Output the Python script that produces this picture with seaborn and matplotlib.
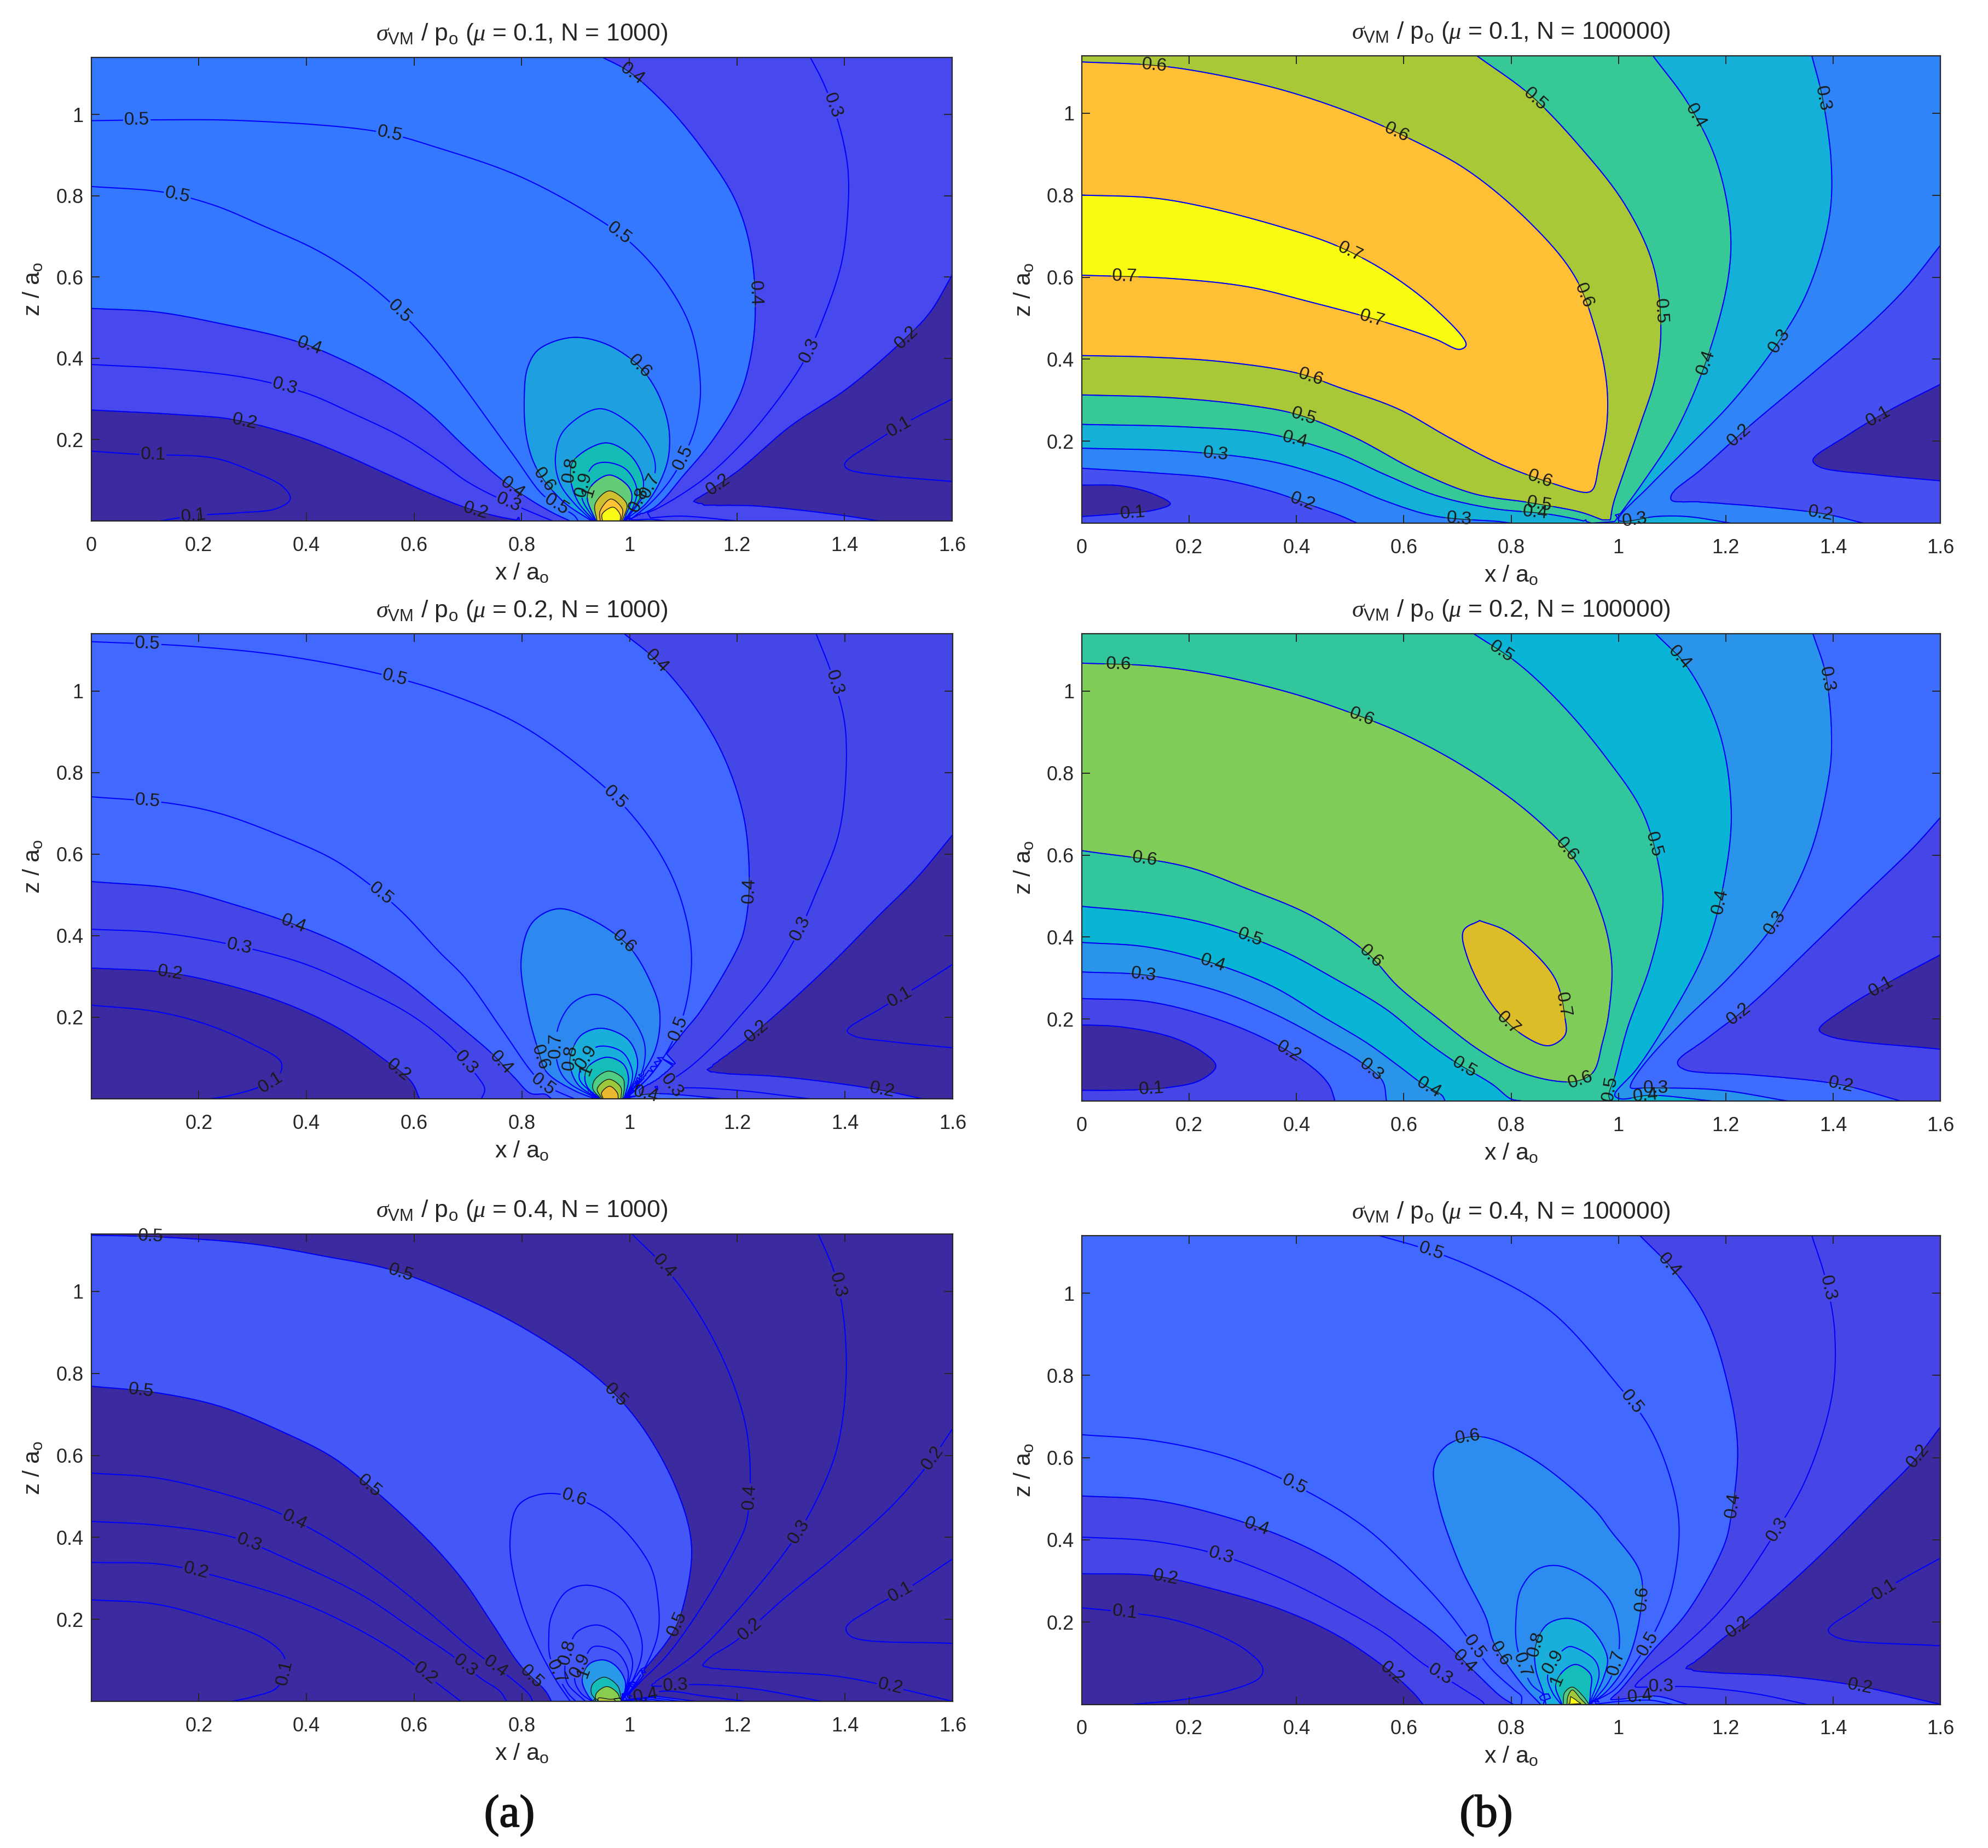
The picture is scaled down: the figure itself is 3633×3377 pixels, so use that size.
import numpy as np
import matplotlib
matplotlib.use("Agg")
import matplotlib.pyplot as plt
import matplotlib.tri as mtri
import matplotlib.patheffects as pe
import seaborn as sns

# Field samples: (value, [(x/a0, z/a0), ...]) along each iso-stress curve.
A1_TRACES = [
 (0.1,[(0,.172),(.088,.164),(.228,.155),(.30,.122),(.356,.085),(.37,.053),(.344,.03),(.274,.02),(.193,.013),(.128,0)]),
 (0.2,[(0,.273),(.158,.262),(.262,.25),(.379,.21),(.46,.169),(.554,.113),(.624,.071),(.694,.034),(.753,.012),(.80,0)]),
 (0.3,[(0,.385),(.158,.373),(.298,.35),(.403,.313),(.484,.266),(.578,.206),(.648,.146),(.695,.10),(.746,.063),(.812,.025),(.858,0)]),
 (0.4,[(0,.523),(.122,.514),(.239,.486),(.379,.443),(.461,.40),(.554,.336),(.624,.271),(.695,.182),(.759,.106),(.814,.054),(.858,.02),(.89,0)]),
 (0.5,[(0,.823),(.134,.809),(.228,.777),(.32,.726),(.414,.67),(.484,.614),(.543,.553),(.60,.48),(.648,.408),(.695,.326),(.741,.242),(.788,.156),(.838,.066),(.865,.04),(.898,.013),(.905,0)]),
 (0.5,[(0,.984),(.12,.986),(.286,.984),(.53,.958),(.648,.916),(.8,.845),(.951,.735),(1.01,.675),(1.068,.587),(1.114,.475),(1.132,.339),(1.128,.262),(1.115,.2),(1.083,.114),(1.044,.05),(1.01,.012),(.998,0)]),
 (0.6,[(.93,0),(.878,.047),(.83,.124),(.81,.2),(.805,.303),(.812,.38),(.834,.424),(.893,.451),(.951,.438),(1.009,.392),(1.044,.336),(1.068,.262),(1.075,.2),(1.068,.132),(1.034,.047),(.995,.005)]),
 (0.7,[(.932,0),(.898,.043),(.871,.093),(.863,.16),(.88,.225),(.944,.276),(1.0,.241),(1.038,.182),(1.048,.12),(1.017,.043),(.994,.004)]),
 (0.8,[(.935,0),(.905,.047),(.891,.106),(.898,.151),(.956,.192),(1.0,.164),(1.026,.101),(1.02,.057),(.993,.003)]),
 (0.9,[(.937,0),(.912,.057),(.918,.1),(.935,.138),(.959,.144),(.993,.128),(1.014,.079),(1.007,.034),(.991,.002)]),
 (1.0,[(.938,0),(.922,.057),(.932,.09),(.963,.113),(.995,.09),(1.005,.061),(.99,.002)]),
 (1.2,[(.94,0),(.937,.043),(.963,.074),(.995,.043),(.987,0)]),
 (1.4,[(.946,0),(.946,.025),(.966,.054),(.987,.03),(.985,0)]),
 (1.6,[(.95,0),(.95,.018),(.97,.034),(.983,.016),(.983,0)]),
 (0.4,[(.951,1.14),(.998,1.106),(1.068,1.023),(1.138,.911),(1.196,.791),(1.225,.67),(1.234,.512),(1.225,.40),(1.203,.303),(1.153,.195),(1.102,.114),(1.048,.034),(1.003,.004),(1.04,.004),(1.07,0)]),
 (0.3,[(1.336,1.14),(1.36,1.078),(1.389,.976),(1.406,.865),(1.406,.763),(1.394,.633),(1.359,.494),(1.324,.392),(1.266,.28),(1.203,.182),(1.136,.101),(1.051,.03),(1.006,.006),(1.095,.012),(1.2,0)]),
 (0.2,[(1.6,.605),(1.558,.512),(1.511,.447),(1.406,.327),(1.30,.234),(1.203,.125),(1.149,.077),(1.109,.043),(1.114,.039),(1.231,.037),(1.383,.016),(1.464,0)]),
 (0.1,[(1.6,.30),(1.523,.248),(1.464,.201),(1.40,.141),(1.406,.127),(1.464,.113),(1.6,.097)]),
 (0.05,[(0,.05),(.1,.08),(.2,.08),(.3,.07),(0,0),(.05,.1),(1.5,.18),(1.6,.2),(1.55,.18)]),
 (0.25,[(1.04,.018),(1.07,.03),(1.09,.032)]),
 (0.15,[(1.6,0)]),(0.47,[(0,1.14)]),(0.25,[(1.6,1.14)]),(2.0,[(.965,.008)]),
]
A1_EDGES = [.2,.4,.6,.8,1.0,1.2,1.4,1.6]
A1_BANDS = ['#3c2aa0','#4748ee','#3478ff','#1ea0e0','#13bdb6','#62cc78','#d0c02f','#ffc335','#f8f914']
A1_LABELS = {.1:[(.115,.16),(.19,.012),(1.5,.235)],.2:[(.285,.245),(.715,.025),(1.523,.44),(1.175,.07)],
 .3:[(.36,.33),(.776,.045),(1.375,1.02),(1.335,.42)],.4:[(.405,.43),(.785,.085),(1.0,1.09),(1.232,.56)],
 .5:[(.085,.985),(.555,.955),(.98,.705),(.16,.80),(.57,.51),(.865,.04),(1.1,.155)],
 .6:[(1.015,.375),(.84,.1)],.7:[(1.04,.085)],.8:[(.895,.125),(1.02,.05)],.9:[(.915,.09)],1.0:[(.928,.07)]}

A2_TRACES = [
 (0.1,[(0,.23),(.122,.214),(.216,.182),(.297,.136),(.353,.09),(.345,.05),(.309,.027),(.251,.006),(.221,0)]),
 (0.2,[(0,.321),(.134,.311),(.239,.284),(.355,.237),(.46,.173),(.542,.099),(.594,.043),(.61,0)]),
 (0.3,[(0,.416),(.122,.408),(.251,.381),(.39,.334),(.495,.274),(.589,.21),(.659,.14),(.718,.054),(.731,.024),(.725,0)]),
 (0.4,[(0,.533),(.157,.515),(.262,.478),(.379,.427),(.484,.367),(.577,.293),(.647,.219),(.695,.167),(.746,.109),(.787,.051),(.817,.013),(.844,.011),(.855,0)]),
 (0.5,[(0,.741),(.146,.725),(.239,.70),(.355,.644),(.449,.588),(.519,.524),(.577,.459),(.647,.36),(.695,.296),(.763,.17),(.817,.068),(.84,.035),(.871,.015),(.898,0)]),
 (0.5,[(0,1.121),(.181,1.11),(.355,1.087),(.542,1.04),(.67,.99),(.798,.916),(.938,.782),(1.008,.69),(1.066,.579),(1.10,.468),(1.115,.346),(1.102,.216),(1.076,.131),(1.04,.06),(1.005,.015),(.99,0)]),
 (0.6,[(.936,0),(.898,.02),(.847,.064),(.83,.122),(.81,.22),(.799,.346),(.822,.436),(.868,.466),(.927,.441),(.997,.376),(1.043,.274),(1.056,.212),(1.048,.122),(1.01,.034),(.993,.002)]),
 (0.7,[(.94,0),(.885,.042),(.866,.087),(.868,.178),(.898,.239),(.937,.256),(.983,.229),(1.017,.172),(1.029,.122),(1.02,.055),(.994,.002)]),
 (0.8,[(.942,0),(.905,.034),(.89,.078),(.892,.114),(.912,.158),(.948,.173),(.994,.149),(1.014,.10),(1.01,.051),(.992,.002)]),
 (0.9,[(.944,0),(.907,.048),(.915,.09),(.935,.125),(.956,.129),(.987,.114),(1.005,.068),(1.003,.038),(.991,.002)]),
 (1.0,[(.945,0),(.922,.028),(.917,.055),(.925,.082),(.958,.102),(.987,.087),(.998,.051),(.99,0)]),
 (1.2,[(.947,0),(.932,.024),(.936,.048),(.961,.068),(.987,.051),(.99,.026),(.987,0)]),
 (1.4,[(.949,0),(.94,.025),(.961,.048),(.983,.03),(.984,0)]),
 (1.6,[(.951,0),(.948,.015),(.963,.031),(.977,.015),(.979,0)]),
 (0.4,[(.99,1.14),(1.043,1.083),(1.113,.976),(1.172,.847),(1.212,.69),(1.222,.533),(1.215,.43),(1.203,.377),(1.132,.216),(1.102,.167),(1.034,.055),(1.0,.01),(1.05,.013),(1.11,.008),(1.17,0)]),
 (0.3,[(1.346,1.14),(1.375,1.041),(1.399,.921),(1.401,.782),(1.387,.644),(1.346,.505),(1.317,.418),(1.26,.29),(1.203,.2),(1.153,.127),(1.102,.068),(1.06,.035),(1.024,.02),(1.1,.027),(1.2,.021),(1.335,0)]),
 (0.2,[(1.6,.648),(1.533,.542),(1.463,.45),(1.381,.34),(1.30,.24),(1.235,.165),(1.203,.13),(1.165,.095),(1.136,.068),(1.171,.062),(1.288,.053),(1.451,.025),(1.544,0)]),
 (0.1,[(1.6,.33),(1.533,.274),(1.463,.219),(1.404,.168),(1.416,.154),(1.486,.14),(1.6,.125)]),
 (0.05,[(0,.1),(.1,.1),(.2,.1),(.25,.08),(0,0),(.1,.0),(1.55,.22),(1.6,.22),(1.5,.19)]),
 (0.25,[(1.05,.03),(1.08,.045),(1.1,.05)]),
 (0.15,[(1.6,0)]),(0.49,[(0,1.14)]),(0.25,[(1.6,1.14)]),(1.8,[(.963,.006)]),
]
A2_EDGES = [.2,.4,.6,.8,1.0,1.2,1.4,1.6]
A2_BANDS = ['#3c2aa0','#4546e6','#4169ff','#2d88f0','#1aaedc','#14bdb8','#50cc85','#9cc83c','#ebb830']
A2_LABELS = {.1:[(.33,.05),(1.5,.254)],.2:[(.146,.304),(.571,.071),(1.235,.168),(1.469,.025)],
 .3:[(.274,.369),(.688,.079),(1.375,1.018),(1.317,.418),(1.07,.025)],
 .4:[(.379,.441),(.758,.085),(1.043,1.064),(1.221,.51),(1.03,.012)],
 .5:[(.105,1.12),(.563,1.027),(.971,.736),(.105,.732),(.536,.5),(.839,.034),(1.09,.173)],
 .6:[(.99,.385),(.83,.1)],.7:[(.866,.131)],.8:[(.895,.1)],.9:[(.915,.105)],1.0:[(.92,.07)]}

A3_TRACES = [
 (0.1,[(0,.248),(.122,.237),(.239,.195),(.32,.154),(.357,.113),(.36,.07),(.343,.031),(.297,.01),(.262,0)]),
 (0.2,[(0,.339),(.134,.334),(.239,.303),(.378,.247),(.483,.185),(.576,.113),(.646,.041),(.687,0)]),
 (0.3,[(0,.439),(.122,.43),(.262,.401),(.378,.339),(.506,.257),(.599,.175),(.669,.113),(.725,.055),(.759,.025),(.772,0)]),
 (0.4,[(0,.557),(.122,.545),(.239,.509),(.343,.463),(.448,.391),(.541,.308),(.623,.222),(.695,.14),(.729,.105),(.781,.055),(.814,.016),(.82,0)]),
 (0.5,[(0,.769),(.122,.753),(.239,.72),(.355,.658),(.448,.596),(.518,.524),(.588,.442),(.646,.365),(.695,.288),(.745,.19),(.797,.088),(.844,.025),(.855,0)]),
 (0.5,[(0,1.137),(.122,1.133),(.297,1.116),(.436,1.085),(.553,1.054),(.669,.997),(.797,.915),(.937,.792),(1.018,.679),(1.088,.514),(1.115,.377),(1.099,.23),(1.078,.163),(1.03,.082),(.995,.03),(.985,0)]),
 (0.6,[(.89,0),(.865,.048),(.83,.132),(.797,.243),(.778,.39),(.797,.483),(.855,.507),(.947,.466),(1.034,.342),(1.053,.243),(1.051,.155),(1.017,.056),(.988,.005)]),
 (0.7,[(.90,0),(.885,.021),(.853,.105),(.85,.155),(.855,.208),(.885,.27),(.924,.283),(.983,.252),(1.02,.163),(1.022,.11),(1.0,.035),(.987,.002)]),
 (0.8,[(.918,0),(.885,.043),(.88,.088),(.89,.14),(.905,.172),(.941,.186),(.98,.159),(1.005,.101),(.997,.04),(.986,0)]),
 (0.9,[(.93,0),(.909,.021),(.898,.056),(.915,.1),(.931,.132),(.946,.134),(.977,.119),(.997,.075),(.993,.03),(.986,0)]),
 (1.0,[(.932,0),(.922,.016),(.912,.052),(.926,.092),(.951,.101),(.973,.088),(.992,.048),(.987,0)]),
 (1.5,[(.94,0),(.929,.02),(.932,.043),(.953,.059),(.977,.039),(.985,.005)]),
 (2.0,[(.936,0),(.939,.021),(.958,.036),(.977,.021),(.983,0)]),
 (2.5,[(.942,0),(.942,.008),(.965,.005),(.982,.007),(.985,0)]),
 (0.4,[(1.004,1.14),(1.065,1.059),(1.123,.956),(1.181,.812),(1.216,.668),(1.224,.535),(1.216,.432),(1.203,.39),(1.136,.235),(1.068,.11),(1.017,.043),(1.0,.015),(1.02,.012),(1.064,.025),(1.143,.012),(1.216,0)]),
 (0.3,[(1.35,1.14),(1.379,1.049),(1.396,.946),(1.402,.792),(1.385,.617),(1.344,.483),(1.297,.38),(1.203,.226),(1.125,.119),(1.068,.065),(1.03,.035),(1.054,.036),(1.124,.041),(1.228,.031),(1.356,0)]),
 (0.2,[(1.6,.666),(1.553,.576),(1.484,.473),(1.379,.35),(1.286,.25),(1.197,.148),(1.146,.105),(1.134,.085),(1.228,.074),(1.38,.062),(1.484,.036),(1.6,0)]),
 (0.1,[(1.6,.348),(1.519,.278),(1.449,.226),(1.402,.18),(1.414,.156),(1.6,.141)]),
 (0.5,[(1.0,.005),(1.05,.012),(1.123,0)]),
 (0.05,[(0,.1),(.1,.12),(.2,.1),(.28,.08),(0,0),(.1,0),(1.55,.22),(1.6,.24),(1.5,.2)]),
 (0.15,[(1.6,.05)]),(0.19,[(1.6,0)]),(0.495,[(0,1.14)]),(0.25,[(1.6,1.14)]),(3.0,[(.965,.001)]),
]
A3_EDGES = [.5,1.0,1.5,2.0,2.5]
A3_BANDS = ['#3c2aa0','#4458f8','#2a98e8','#14bdb8','#88cc50','#b0c838']
A3_LABELS = {.1:[(.36,.07),(1.501,.272)],.2:[(.194,.314),(.613,.057),(1.565,.591),(1.224,.175),(1.484,.036)],
 .3:[(.291,.38),(.692,.082),(1.379,1.013),(1.311,.416),(1.085,.04)],.4:[(.382,.454),(.75,.082),(1.062,1.059),(1.22,.499),(1.03,.015)],
 .5:[(.093,.759),(.11,1.131),(.574,1.042),(.977,.751),(.52,.53),(.815,.057),(1.086,.19)],
 .6:[(.896,.494)],.7:[(.86,.07)],.8:[(.885,.12)],.9:[(.905,.09)],1.0:[(.915,.07)]}

B1_TRACES = [
 (0.6,[(0,1.125),(.132,1.117),(.226,1.10),(.367,1.059),(.495,1.004),(.601,.944),(.718,.861),(.835,.733),(.917,.605),(.958,.467),(.978,.339),(.978,.238),(.964,.146),(.952,.082),(.941,.075),(.882,.095),(.777,.146),(.683,.21),(.589,.279),(.484,.329),(.402,.366),(.261,.394),(.132,.405),(0,.409)]),
 (0.7,[(0,.80),(.132,.793),(.226,.772),(.367,.724),(.472,.678),(.566,.614),(.659,.522),(.716,.435),(.704,.424),(.659,.449),(.566,.49),(.425,.54),(.308,.577),(.167,.597),(0,.605)]),
 (0.5,[(.736,1.14),(.835,1.045),(.929,.917),(1.011,.779),(1.064,.632),(1.079,.476),(1.069,.357),(1.04,.238),(1.011,.128),(.99,.045),(.985,.008)]),
 (0.5,[(0,.313),(.167,.306),(.308,.288),(.402,.265),(.507,.21),(.624,.128),(.73,.072),(.835,.05),(.929,.027),(.97,.008)]),
 (0.4,[(1.064,1.14),(1.128,1.027),(1.181,.889),(1.208,.724),(1.204,.595),(1.163,.394),(1.105,.219),(1.046,.10),(.993,.004)]),
 (0.4,[(0,.241),(.191,.235),(.343,.219),(.472,.173),(.566,.118),(.659,.068),(.765,.036),(.87,.022),(.94,.004),(.95,0)]),
 (0.3,[(1.36,1.14),(1.38,1.036),(1.397,.861),(1.391,.733),(1.35,.559),(1.292,.43),(1.21,.293),(1.128,.183),(1.058,.091),(.999,.008),(1.011,.004),(1.069,.016),(1.128,.016),(1.21,0)]),
 (0.3,[(0,.183),(.191,.175),(.355,.15),(.472,.105),(.566,.054),(.659,.017),(.777,.004),(.80,0)]),
 (0.2,[(1.6,.678),(1.538,.577),(1.468,.485),(1.362,.366),(1.245,.238),(1.151,.128),(1.099,.072),(1.099,.054),(1.151,.051),(1.268,.04),(1.386,.022),(1.456,0)]),
 (0.2,[(0,.134),(.132,.123),(.25,.109),(.355,.077),(.425,.045),(.484,.017),(.513,0)]),
 (0.1,[(0,.093),(.074,.091),(.132,.072),(.165,.047),(.132,.031),(.062,.022),(0,.016)]),
 (0.1,[(1.6,.339),(1.503,.274),(1.421,.21),(1.362,.155),(1.374,.137),(1.479,.118),(1.6,.103)]),
 (0.05,[(0,.055),(.06,.055),(.11,.05),(1.5,.2),(1.6,.22),(1.55,.2)]),
 (0.15,[(0,0),(1.6,0)]),(0.58,[(0,1.14)]),(0.25,[(1.6,1.14)]),
]
B1_EDGES = [.1,.2,.3,.4,.5,.6,.7]
B1_BANDS = ['#3c2aa0','#4650f0','#2f85f8','#14b0d8','#36c896','#a8c838','#ffc035','#f8fa10']
B1_LABELS = {.1:[(.095,.025),(1.489,.251)],.2:[(.411,.052),(1.237,.2),(1.376,.019)],
 .3:[(.249,.166),(.703,.016),(1.38,1.036),(1.301,.444),(1.03,.012)],.4:[(.396,.199),(.845,.025),(1.137,.988),(1.169,.389)],
 .5:[(.413,.261),(.854,.054),(.845,1.034),(1.075,.517)],.6:[(.135,1.115),(.587,.955),(.929,.552),(.425,.35),(.853,.105)],
 .7:[(.08,.6),(.498,.658),(.542,.504)]}

B2_TRACES = [
 (0.6,[(0,1.068),(.132,1.061),(.25,1.039),(.39,.995),(.507,.944),(.601,.894),(.718,.811),(.835,.701),(.917,.591),(.964,.472),(.987,.344),(.982,.215),(.97,.142),(.952,.069),(.923,.049),(.882,.049),(.812,.073),(.741,.124),(.659,.206),(.589,.28),(.531,.362),(.425,.454),(.308,.518),(.191,.573),(0,.611)]),
 (0.7,[(.741,.44),(.712,.417),(.718,.353),(.765,.234),(.823,.16),(.87,.135),(.9,.16),(.9,.206),(.882,.298),(.835,.371),(.788,.417),(.741,.44)]),
 (0.5,[(.73,1.14),(.812,1.068),(.894,.967),(.976,.839),(1.046,.701),(1.081,.527),(1.081,.454),(1.058,.325),(1.017,.179),(.993,.06),(.982,.014),(.985,0)]),
 (0.5,[(0,.475),(.132,.458),(.238,.431),(.367,.371),(.472,.298),(.566,.225),(.636,.151),(.695,.096),(.765,.041),(.8,.005),(.82,0)]),
 (0.4,[(1.069,1.14),(1.128,1.059),(1.187,.903),(1.21,.71),(1.198,.545),(1.163,.371),(1.093,.197),(1.034,.078),(.993,.014),(1.005,.005),(1.058,.014),(1.175,0)]),
 (0.4,[(0,.387),(.121,.376),(.238,.339),(.355,.28),(.449,.206),(.531,.142),(.589,.087),(.636,.041),(.671,.014),(.677,0)]),
 (0.3,[(1.362,1.14),(1.386,1.04),(1.397,.875),(1.391,.784),(1.356,.6),(1.292,.435),(1.21,.307),(1.116,.188),(1.046,.087),(1.023,.041),(1.023,.032),(1.058,.032),(1.187,.027),(1.315,0)]),
 (0.3,[(0,.315),(.121,.307),(.25,.27),(.355,.215),(.46,.142),(.519,.096),(.56,.05),(.568,0)]),
 (0.2,[(1.6,.692),(1.55,.619),(1.456,.5),(1.362,.38),(1.245,.234),(1.163,.151),(1.11,.096),(1.122,.076),(1.245,.064),(1.409,.041),(1.526,0)]),
 (0.2,[(0,.25),(.121,.243),(.238,.206),(.343,.151),(.425,.087),(.46,.041),(.472,0)]),
 (0.1,[(0,.186),(.074,.181),(.167,.156),(.226,.119),(.25,.085),(.22,.05),(.156,.032),(.062,.026),(0,.026)]),
 (0.1,[(1.6,.357),(1.503,.289),(1.421,.225),(1.374,.174),(1.397,.156),(1.6,.126)]),
 (0.05,[(0,.1),(.08,.1),(.16,.09),(1.5,.22),(1.6,.24),(1.55,.22)]),
 (0.15,[(0,0),(1.6,0)]),(0.55,[(0,1.14),(.9,.01)]),(0.25,[(1.6,1.14)]),
]
B2_EDGES = [.1,.2,.3,.4,.5,.6,.7]
B2_BANDS = ['#3c2aa0','#4646e8','#3e6cff','#2a94ea','#0ab4d4','#32c69c','#80cc58','#dcbc28']
B2_LABELS = {.1:[(.13,.03),(1.491,.275)],.2:[(.384,.119),(1.228,.206),(1.415,.04)],
 .3:[(.115,.305),(.539,.075),(1.383,1.027),(1.292,.435),(1.07,.03)],.4:[(.246,.344),(.65,.041),(1.105,1.072),(1.192,.486),(1.05,.012)],
 .5:[(.314,.401),(.71,.076),(.78,1.093),(1.066,.626),(.985,.03)],.6:[(.117,.59),(.068,1.065),(.527,.958),(.908,.619),(.54,.355),(.929,.05)],
 .7:[(.794,.19),(.896,.234)]}

B3_TRACES = [
 (0.1,[(0,.235),(.062,.227),(.167,.207),(.25,.171),(.308,.13),(.337,.089),(.331,.064),(.273,.033),(.191,.012),(.097,0)]),
 (0.2,[(0,.318),(.132,.313),(.25,.279),(.367,.233),(.472,.171),(.566,.089),(.618,.028),(.636,0)]),
 (0.3,[(0,.407),(.132,.397),(.25,.366),(.367,.309),(.484,.233),(.566,.171),(.636,.099),(.705,.042),(.747,.006),(.75,0)]),
 (0.4,[(0,.507),(.132,.497),(.25,.463),(.367,.412),(.472,.345),(.566,.258),(.659,.171),(.737,.073),(.781,.019),(.804,0)]),
 (0.5,[(0,.656),(.132,.642),(.273,.601),(.402,.53),(.531,.427),(.636,.294),(.686,.22),(.719,.162),(.761,.089),(.806,.035),(.819,.02),(.819,0)]),
 (0.5,[(.554,1.14),(.636,1.109),(.73,1.062),(.87,.96),(.999,.776),(1.058,.673),(1.099,.54),(1.113,.429),(1.10,.284),(1.074,.193),(1.038,.113),(.992,.035),(.95,.002),(1.0,.007),(1.06,.01),(1.1,0)]),
 (0.6,[(.855,0),(.822,.046),(.768,.149),(.753,.212),(.706,.335),(.665,.489),(.657,.581),(.683,.632),(.741,.651),(.835,.601),(.952,.478),(.985,.423),(1.04,.322),(1.041,.224),(1.016,.103),(.982,.037),(.948,0)]),
 (0.7,[(.86,0),(.863,.019),(.837,.05),(.812,.135),(.809,.206),(.819,.282),(.85,.329),(.888,.337),(.944,.304),(.985,.25),(1.002,.149),(.984,.06),(.95,.003)]),
 (0.8,[(.865,0),(.86,.028),(.846,.086),(.846,.144),(.869,.196),(.907,.209),(.944,.189),(.979,.117),(.972,.064),(.949,.003)]),
 (0.9,[(.893,0),(.877,.029),(.868,.069),(.885,.115),(.907,.14),(.921,.137),(.955,.109),(.964,.073),(.947,.005)]),
 (1.0,[(.894,.002),(.883,.046),(.898,.082),(.921,.097),(.948,.073),(.948,.032),(.946,0)]),
 (1.2,[(.897,0),(.90,.029),(.914,.042),(.934,.02),(.945,0)]),
 (1.4,[(.904,0),(.906,.02),(.914,.035),(.93,.013),(.94,0)]),
 (1.6,[(.907,0),(.911,.019),(.93,.002)]),
 (0.4,[(1.04,1.14),(1.105,1.052),(1.163,.94),(1.204,.776),(1.222,.622),(1.21,.458),(1.196,.384),(1.128,.224),(1.061,.126),(1.002,.033),(.985,.012),(1.0,.012),(1.07,.02),(1.128,0)]),
 (0.3,[(1.36,1.14),(1.386,1.032),(1.403,.899),(1.397,.745),(1.35,.55),(1.292,.417),(1.196,.237),(1.111,.13),(1.06,.08),(1.03,.043),(1.057,.042),(1.128,.043),(1.245,.028),(1.351,0)]),
 (0.2,[(1.6,.675),(1.55,.591),(1.48,.499),(1.362,.345),(1.245,.21),(1.196,.162),(1.151,.113),(1.122,.087),(1.151,.079),(1.303,.069),(1.432,.048),(1.6,0)]),
 (0.1,[(1.6,.356),(1.515,.294),(1.444,.233),(1.391,.181),(1.409,.161),(1.6,.142)]),
 (0.05,[(0,.1),(.1,.11),(.2,.1),(.27,.08),(0,0),(1.5,.22),(1.6,.25),(1.55,.22)]),
 (0.52,[(0,1.14)]),(0.25,[(1.6,1.14)]),(1.8,[(.915,.004)]),
]
B3_EDGES = [.2,.4,.6,.8,1.0,1.2,1.4,1.6]
B3_BANDS = ['#3c2aa0','#4646e6','#4169ff','#2d8cf0','#1aaedc','#14bdb8','#50cc80','#a0c83c','#f8f914']
B3_LABELS = {.1:[(.08,.225),(1.495,.279)],.2:[(.156,.305),(.577,.075),(1.561,.601),(1.222,.19),(1.45,.045)],
 .3:[(.259,.361),(.665,.066),(1.386,1.011),(1.301,.422),(1.08,.043)],.4:[(.326,.434),(.71,.1),(1.087,1.06),(1.212,.484),(1.04,.015)],
 .5:[(.39,.52),(.733,.14),(.648,1.093),(1.023,.733),(1.052,.15)],.6:[(.72,.645),(.778,.122),(1.04,.258)],
 .7:[(.818,.094),(.99,.104)],.8:[(.847,.146)],.9:[(.882,.10)],1.0:[(.885,.06)]}

MU = ['0.1','0.2','0.4','0.1','0.2','0.4']
CYCLES = ['1000','1000','1000','100000','100000','100000']
LINE_LEVELS = [.1,.2,.3,.4,.5,.6,.7,.8,.9,1.0]
X_TICKS_FULL = [0,.2,.4,.6,.8,1,1.2,1.4,1.6]
X_TICKS_NOZERO = [.2,.4,.6,.8,1,1.2,1.4,1.6]
Z_TICKS = [.2,.4,.6,.8,1]
# pixel boxes left, top, right, bottom
BOXES = [(166.5,105,1740,952),(166.5,1158.5,1741,2008),(166.5,2255,1741,3109),
         (1977,102,3546,956),(1977,1158,3546,2012),(1977,2258,3546,3114.5)]

W, H = 3633, 3377
sns.set_theme(style="ticks")
plt.rcParams.update({'font.family':['Liberation Sans','DejaVu Sans'],'mathtext.fontset':'custom',
  'mathtext.rm':'Liberation Sans','mathtext.it':'Liberation Serif:italic','mathtext.default':'rm',
  'axes.axisbelow':False})
EPS = 1e-4
INK = '#262626'

def smooth(pts, n=10):
    p = np.array(pts, float)
    if len(p) < 3:
        return p
    e = np.vstack([2*p[0]-p[1], p, 2*p[-1]-p[-2]])
    out = [p[0]]
    for i in range(1, len(e)-2):
        P0, P1, P2, P3 = e[i-1], e[i], e[i+1], e[i+2]
        t0 = 0.0
        t1 = t0 + np.linalg.norm(P1-P0)**.5 + 1e-9
        t2 = t1 + np.linalg.norm(P2-P1)**.5 + 1e-9
        t3 = t2 + np.linalg.norm(P3-P2)**.5 + 1e-9
        for t in np.linspace(t1, t2, n+1)[1:]:
            A1 = (t1-t)/(t1-t0)*P0 + (t-t0)/(t1-t0)*P1
            A2 = (t2-t)/(t2-t1)*P1 + (t-t1)/(t2-t1)*P2
            A3 = (t3-t)/(t3-t2)*P2 + (t-t2)/(t3-t2)*P3
            B1 = (t2-t)/(t2-t0)*A1 + (t-t0)/(t2-t0)*A2
            B2 = (t3-t)/(t3-t1)*A2 + (t-t1)/(t3-t1)*A3
            out.append((t2-t)/(t2-t1)*B1 + (t-t1)/(t2-t1)*B2)
    return np.array(out)

def relieve_plateaus(x, z, v):
    # A flat mesh triangle on the low side of a curve would wrongly count as above it:
    # give it a centre vertex that leans towards the neighbour across its longest edge.
    for _ in range(6):
        tri = mtri.Triangulation(x, z)
        t, nb = tri.triangles, tri.neighbors
        flat = (v[t[:,0]] == v[t[:,1]]) & (v[t[:,1]] == v[t[:,2]])
        nx, nz, nv = [], [], []
        for i in np.where(flat)[0]:
            a = t[i]
            lens = [np.hypot(x[a[j]]-x[a[(j+1)%3]], z[a[j]]-z[a[(j+1)%3]]) for j in range(3)]
            j = int(np.argmax(lens))
            n = nb[i, j]
            if n < 0:
                continue
            opp = [k for k in t[n] if k not in a]
            if not opp or v[opp[0]] >= v[a[0]]:
                continue
            nx.append(x[a].mean()); nz.append(z[a].mean())
            nv.append(v[a[0]] + 0.3*(v[opp[0]]-v[a[0]]))
        if not nx:
            break
        x = np.r_[x, nx]; z = np.r_[z, nz]; v = np.r_[v, nv]
    return x, z, v

def field(traces):
    xs, zs, vs = [], [], []
    for value, pts in traces:
        scatter = value in (0.05,) or len(pts) < 4
        q = np.array(pts, float) if scatter else smooth(pts)
        xs.append(np.clip(q[:,0], 0, 1.6)); zs.append(np.clip(q[:,1], 0, 1.14))
        vs.append(np.full(len(q), value))
    x, z, v = map(np.concatenate, (xs, zs, vs))
    _, keep = np.unique(np.round(np.c_[x, z], 5), axis=0, return_index=True)
    keep = np.sort(keep)
    x, z, v = relieve_plateaus(x[keep], z[keep], v[keep])
    return mtri.Triangulation(x, z), v

fig = plt.figure(figsize=(W/100, H/100), dpi=100, facecolor='white')
panels = [(A1_TRACES,A1_EDGES,A1_BANDS,A1_LABELS),(A2_TRACES,A2_EDGES,A2_BANDS,A2_LABELS),
          (A3_TRACES,A3_EDGES,A3_BANDS,A3_LABELS),(B1_TRACES,B1_EDGES,B1_BANDS,B1_LABELS),
          (B2_TRACES,B2_EDGES,B2_BANDS,B2_LABELS),(B3_TRACES,B3_EDGES,B3_BANDS,B3_LABELS)]
for i, (traces, edges, bands, labels) in enumerate(panels):
    l, t, r, b = BOXES[i]
    ax = fig.add_axes([l/W, 1-b/H, (r-l)/W, (b-t)/H])
    tri, val = field(traces)
    ed = [e-EPS for e in edges]
    ax.tricontourf(tri, val, levels=[-1]+ed+[100], colors=list(sns.color_palette(bands)), zorder=1)
    ax.tricontour(tri, val, levels=ed, colors='k', linewidths=1.0, zorder=2)
    for lev in LINE_LEVELS:
        cs = ax.tricontour(tri, val, levels=[lev-EPS], colors='#0000ff', linewidths=1.5, zorder=3)
        places = labels.get(lev, [])
        if places and len(cs.allsegs[0]):
            ax.set_xlim(0, 1.6); ax.set_ylim(0, 1.14)
            txt = ax.clabel(cs, manual=places, inline=True, inline_spacing=2, fontsize=24,
                            colors='k', fmt=lambda v: f'{round(v,1):g}')
            for tx in txt:
                tx.set_zorder(5); tx.set_clip_on(False)
    ax.set_xlim(0, 1.6); ax.set_ylim(0, 1.14)
    xt = X_TICKS_NOZERO if i in (1, 2) else X_TICKS_FULL
    ax.set_xticks(xt); ax.set_xticklabels([f'{v:g}' for v in xt])
    ax.set_yticks(Z_TICKS); ax.set_yticklabels([f'{v:g}' for v in Z_TICKS])
    ax.tick_params(direction='in', length=11, width=1.4, color=INK, labelcolor=INK, labelsize=26,
                   top=True, right=True, pad=10)
    ax.tick_params(axis='x', pad=20)
    for s in ax.spines.values():
        s.set_visible(True); s.set_color(INK); s.set_linewidth(1.6); s.set_zorder(6)
    ax.set_xlabel(r'x / a$_{\mathrm{o}}$', fontsize=31, color=INK, labelpad=8)
    ax.set_ylabel(r'z / a$_{\mathrm{o}}$', fontsize=31, color=INK, labelpad=15)
    ax.set_title(rf'$\mathit{{\sigma}}_{{\mathrm{{VM}}}}$ / p$_{{\mathrm{{o}}}}$ ($\mathit{{\mu}}$ = {MU[i]}, N = {CYCLES[i]})',
                 fontsize=32, color=INK, pad=22)

stroke = [pe.withStroke(linewidth=1.4, foreground='#111111')]
fig.text(931/W, 1-3318/H, '(a)', fontsize=60, family='Liberation Serif', ha='center', va='center', color='#111111', path_effects=stroke)
fig.text(2716/W, 1-3318/H, '(b)', fontsize=60, family='Liberation Serif', ha='center', va='center', color='#111111', path_effects=stroke)
fig.savefig('out.png', dpi=100, facecolor='white')
